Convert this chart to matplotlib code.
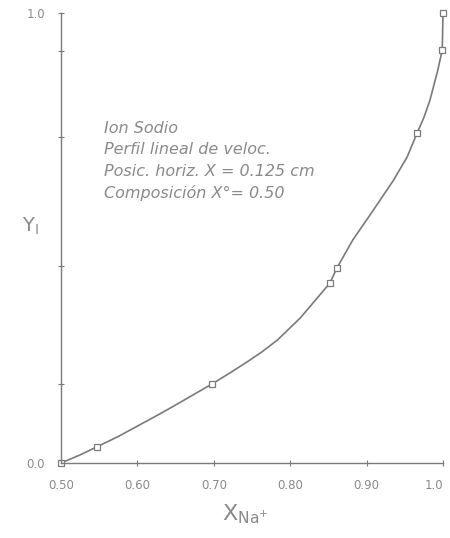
import numpy as np
import matplotlib
matplotlib.use("Agg")
import matplotlib.pyplot as plt

# curve
curve_x = [0.50, 0.525, 0.547, 0.575, 0.601, 0.625, 0.647, 0.698, 0.72, 0.743, 0.763, 0.783,
           0.813, 0.832, 0.852, 0.861, 0.882, 0.908, 0.935, 0.953, 0.966, 0.975, 0.983,
           0.993, 0.999, 1.0]
curve_y = [0.0, 0.018, 0.036, 0.059, 0.083, 0.105, 0.126, 0.176, 0.199, 0.224, 0.247, 0.273,
           0.322, 0.360, 0.400, 0.433, 0.496, 0.560, 0.628, 0.680, 0.733, 0.768, 0.807,
           0.872, 0.918, 1.0]

# measured points (small open markers)
pts_x = [0.50, 0.547, 0.698, 0.852, 0.861, 0.966, 0.999, 1.0]
pts_y = [0.0, 0.036, 0.176, 0.400, 0.433, 0.733, 0.918, 1.0]

xticks = [0.50, 0.60, 0.70, 0.80, 0.90, 1.0]
xtick_labels = ["0.50", "0.60", "0.70", "0.80", "0.90", "1.0"]
yticks = [0.0, 0.176, 0.438, 0.724, 0.916, 1.0]
ytick_labels = ["0.0", "", "", "", "", "1.0"]

note_lines = ["Ion Sodio",
              "Perfil lineal de veloc.",
              "Posic. horiz. X = 0.125 cm",
              "Composición X\u00b0= 0.50"]

line_c = "#7a7a7a"
text_c = "#8a8a8a"

fig = plt.figure(figsize=(4.5, 5.38), dpi=100)
ax = fig.add_axes([0.1356, 0.1394, 0.8489, 0.8364])

ax.plot(curve_x, curve_y, color=line_c, lw=1.2, clip_on=False,
        solid_joinstyle="round")
ax.plot(pts_x, pts_y, ls="none", marker="s", ms=4, mfc="white", mec=line_c,
        mew=0.9, clip_on=False)

ax.set_xlim(0.5, 1.0)
ax.set_ylim(0.0, 1.0)
ax.set_xticks(xticks)
ax.set_xticklabels(xtick_labels)
ax.set_yticks(yticks)
ax.set_yticklabels(ytick_labels)
ax.tick_params(direction="inout", length=5, width=0.8, colors=line_c,
               labelcolor=text_c, labelsize=8.5, pad=9)
# last label sits against the right edge, as in the drawing
ax.get_xticklabels()[-1].set_horizontalalignment("right")
ax.get_xticklabels()[-1].set_x(1.003)

for s in ["top", "right"]:
    ax.spines[s].set_visible(False)
for s in ["left", "bottom"]:
    ax.spines[s].set_color(line_c)
    ax.spines[s].set_linewidth(1.0)

y0 = 0.744
for i, t in enumerate(note_lines):
    ax.text(0.112, y0 - i * 0.048, t, fontsize=11.5, style="italic",
            color=text_c, ha="left", va="center", transform=ax.transAxes)

fig.text(0.067, 0.58, r"Y$_\mathsf{I}$", fontsize=14, color=text_c,
         ha="center", va="center")
fig.text(0.545, 0.045, r"X$_{\mathsf{Na}^{+}}$", fontsize=16, color=text_c,
         ha="center", va="center")

fig.savefig("out.png", dpi=100, facecolor="white")
